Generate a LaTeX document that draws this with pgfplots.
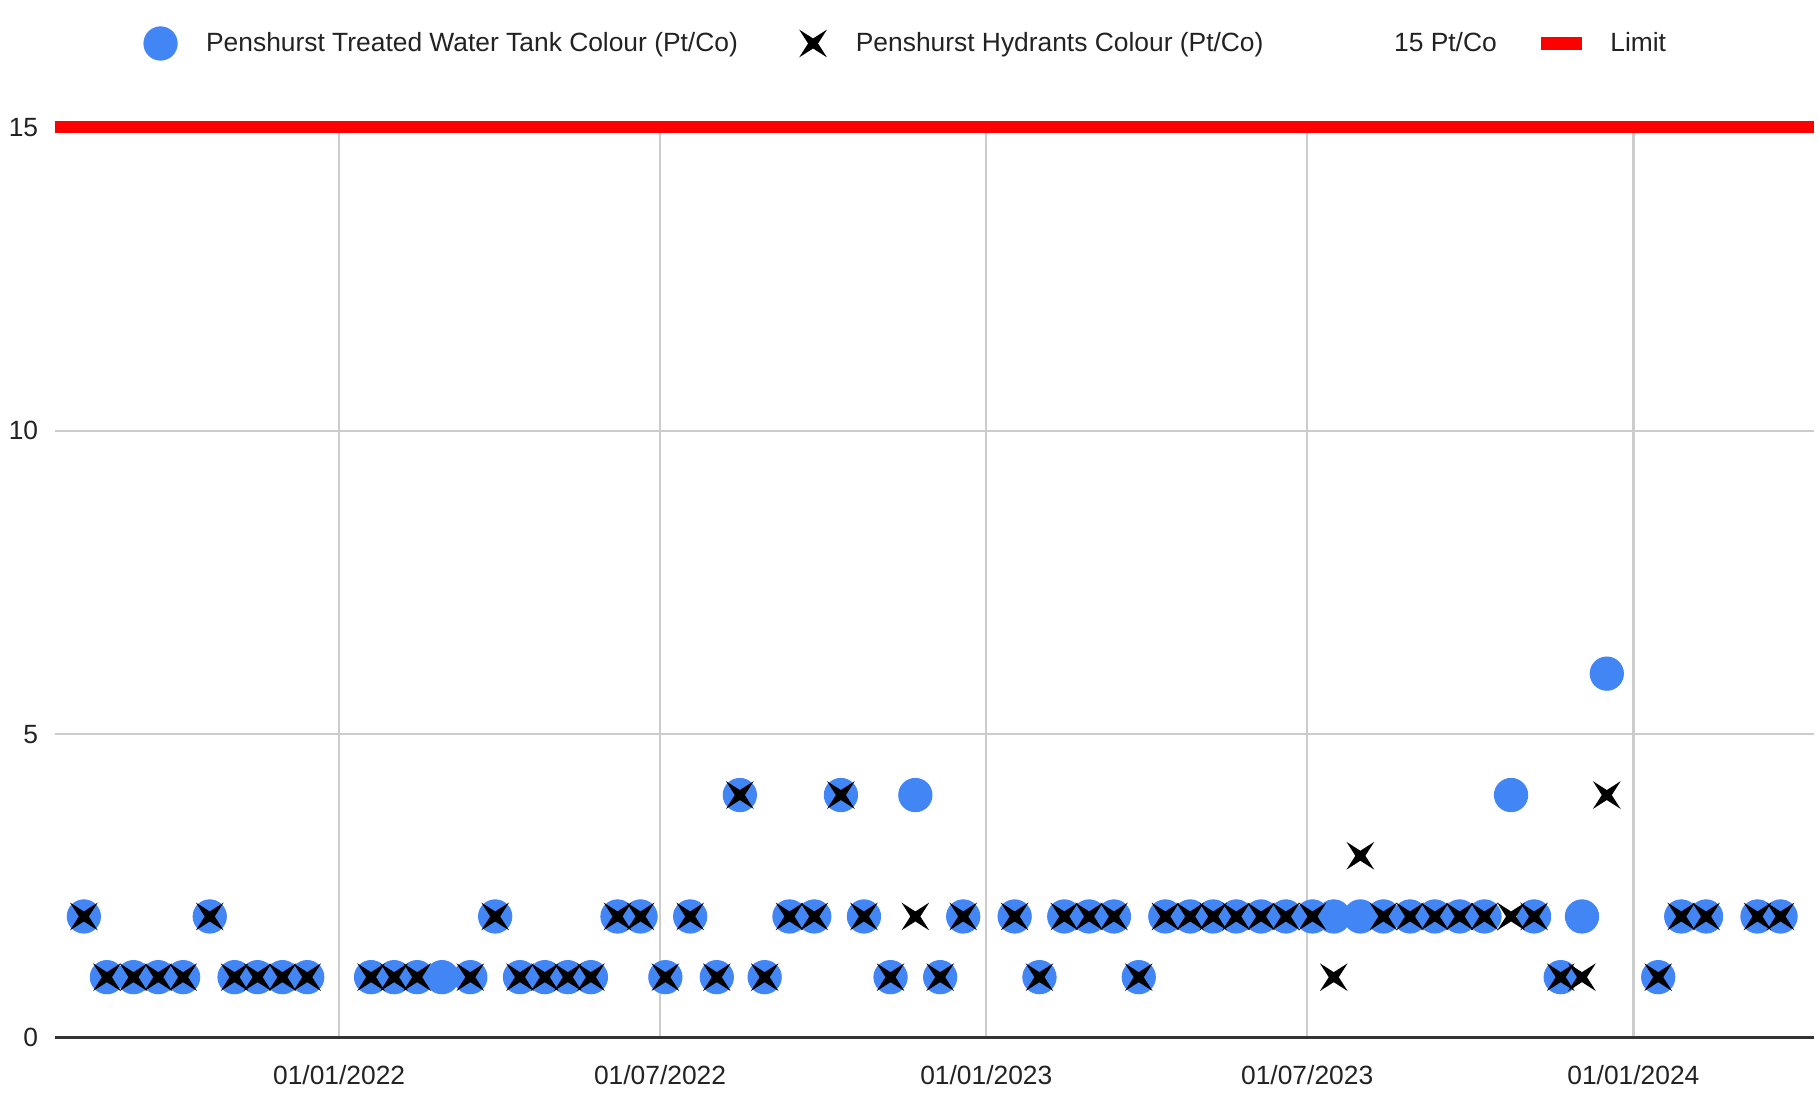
\documentclass[border=0pt]{standalone}
\usepackage{pgfplots}
\pgfplotsset{compat=1.18}
\usepackage{fontspec}
\setmainfont{Liberation Sans}

\definecolor{tankblue}{HTML}{4285F4}
\definecolor{gridgray}{HTML}{CCCCCC}
\definecolor{txt}{HTML}{222222}

% four-pointed "x" like the chart's hydrant marker
\pgfdeclareplotmark{gx}{%
  \pgfpathmoveto{\pgfqpoint{\pgfplotmarksize}{\pgfplotmarksize}}%
  \pgfpathlineto{\pgfqpoint{0.36\pgfplotmarksize}{0pt}}%
  \pgfpathlineto{\pgfqpoint{\pgfplotmarksize}{-\pgfplotmarksize}}%
  \pgfpathlineto{\pgfqpoint{0pt}{-0.36\pgfplotmarksize}}%
  \pgfpathlineto{\pgfqpoint{-\pgfplotmarksize}{-\pgfplotmarksize}}%
  \pgfpathlineto{\pgfqpoint{-0.36\pgfplotmarksize}{0pt}}%
  \pgfpathlineto{\pgfqpoint{-\pgfplotmarksize}{\pgfplotmarksize}}%
  \pgfpathlineto{\pgfqpoint{0pt}{0.36\pgfplotmarksize}}%
  \pgfpathclose
  \pgfusepathqfill
}

% x = days since 01/01/2022
\pgfplotstableread{
day tank hyd
-144 2 2
-131 1 1
-116 1 1
-102 1 1
-88 1 1
-73 2 2
-59 1 1
-46 1 1
-32 1 1
-18 1 1
18 1 1
31 1 1
44 1 1
58 1 nan
74 1 1
88 2 2
102 1 1
116 1 1
129 1 1
142 1 1
157 2 2
170 2 2
184 1 1
198 2 2
213 1 1
226 4 4
240 1 1
254 2 2
268 2 2
283 4 4
296 2 2
311 1 1
325 4 2
339 1 1
352 2 2
381 2 2
395 1 1
409 2 2
423 2 2
437 2 2
451 1 1
466 2 2
480 2 2
493 2 2
506 2 2
520 2 2
534 2 2
549 2 2
561 2 1
576 2 3
589 2 2
604 2 2
618 2 2
632 2 2
646 2 2
661 4 2
674 2 2
689 1 1
701 2 1
715 6 4
744 1 1
757 2 2
771 2 2
800 2 2
813 2 2
}\colourdata

\begin{document}
\fontsize{11.4}{13.5}\selectfont
\begin{tikzpicture}
\begin{axis}[
    scale only axis,
    width=760pt, height=393.5pt,
    xmin=-160, xmax=832,
    ymin=0, ymax=15,
    axis x line*=bottom,
    axis y line*=left,
    x axis line style={draw=black!80, line width=1.2pt},
    y axis line style={draw=none},
    xtick={0,181,365,546,730},
    xticklabels={01/01/2022,01/07/2022,01/01/2023,01/07/2023,01/01/2024},
    ytick={0,5,10,15},
    major tick length=0pt,
    grid=major,
    major grid style={gridgray, line width=1pt},
    tick label style={text=txt},
    /pgf/number format/assume math mode=true,
    yticklabel style={xshift=-3.5pt},
    xticklabel style={yshift=-8pt},
    clip=false,
    legend columns=4,
    legend cell align=left,
    legend style={
        at={(0.05,1.092)}, anchor=west,
        draw=none, fill=none, inner sep=0pt, text=txt,
        /tikz/every odd column/.append style={column sep=10.5pt},
        /tikz/every even column/.append style={column sep=24.5pt}
    }
]

\addplot[only marks, mark=*, mark size=7.2pt, color=tankblue]
    table[x=day, y=tank] {\colourdata};
\addlegendentry{Penshurst Treated Water Tank Colour (Pt/Co)}

\addplot[only marks, mark=gx, mark size=6pt, color=black]
    table[x=day, y=hyd] {\colourdata};
\addlegendentry{Penshurst Hydrants Colour (Pt/Co)}

\addlegendimage{legend image code/.code={\path (0cm,0cm) (0.6cm,0cm);}}
\addlegendentry{15 Pt/Co\kern-7pt}

\addplot[color=red, line width=5pt,
    legend image code/.code={\fill[red, line width=0pt] (0.0cm,-2.8pt) rectangle (0.6cm,2.8pt);}]
    coordinates {(-160,15) (832,15)};
\addlegendentry{Limit}

\end{axis}
\path ([shift={(-22.5pt,-24.5pt)}]current axis.south west)
    rectangle ([shift={(1.5pt,55pt)}]current axis.north east);
\end{tikzpicture}
\end{document}
